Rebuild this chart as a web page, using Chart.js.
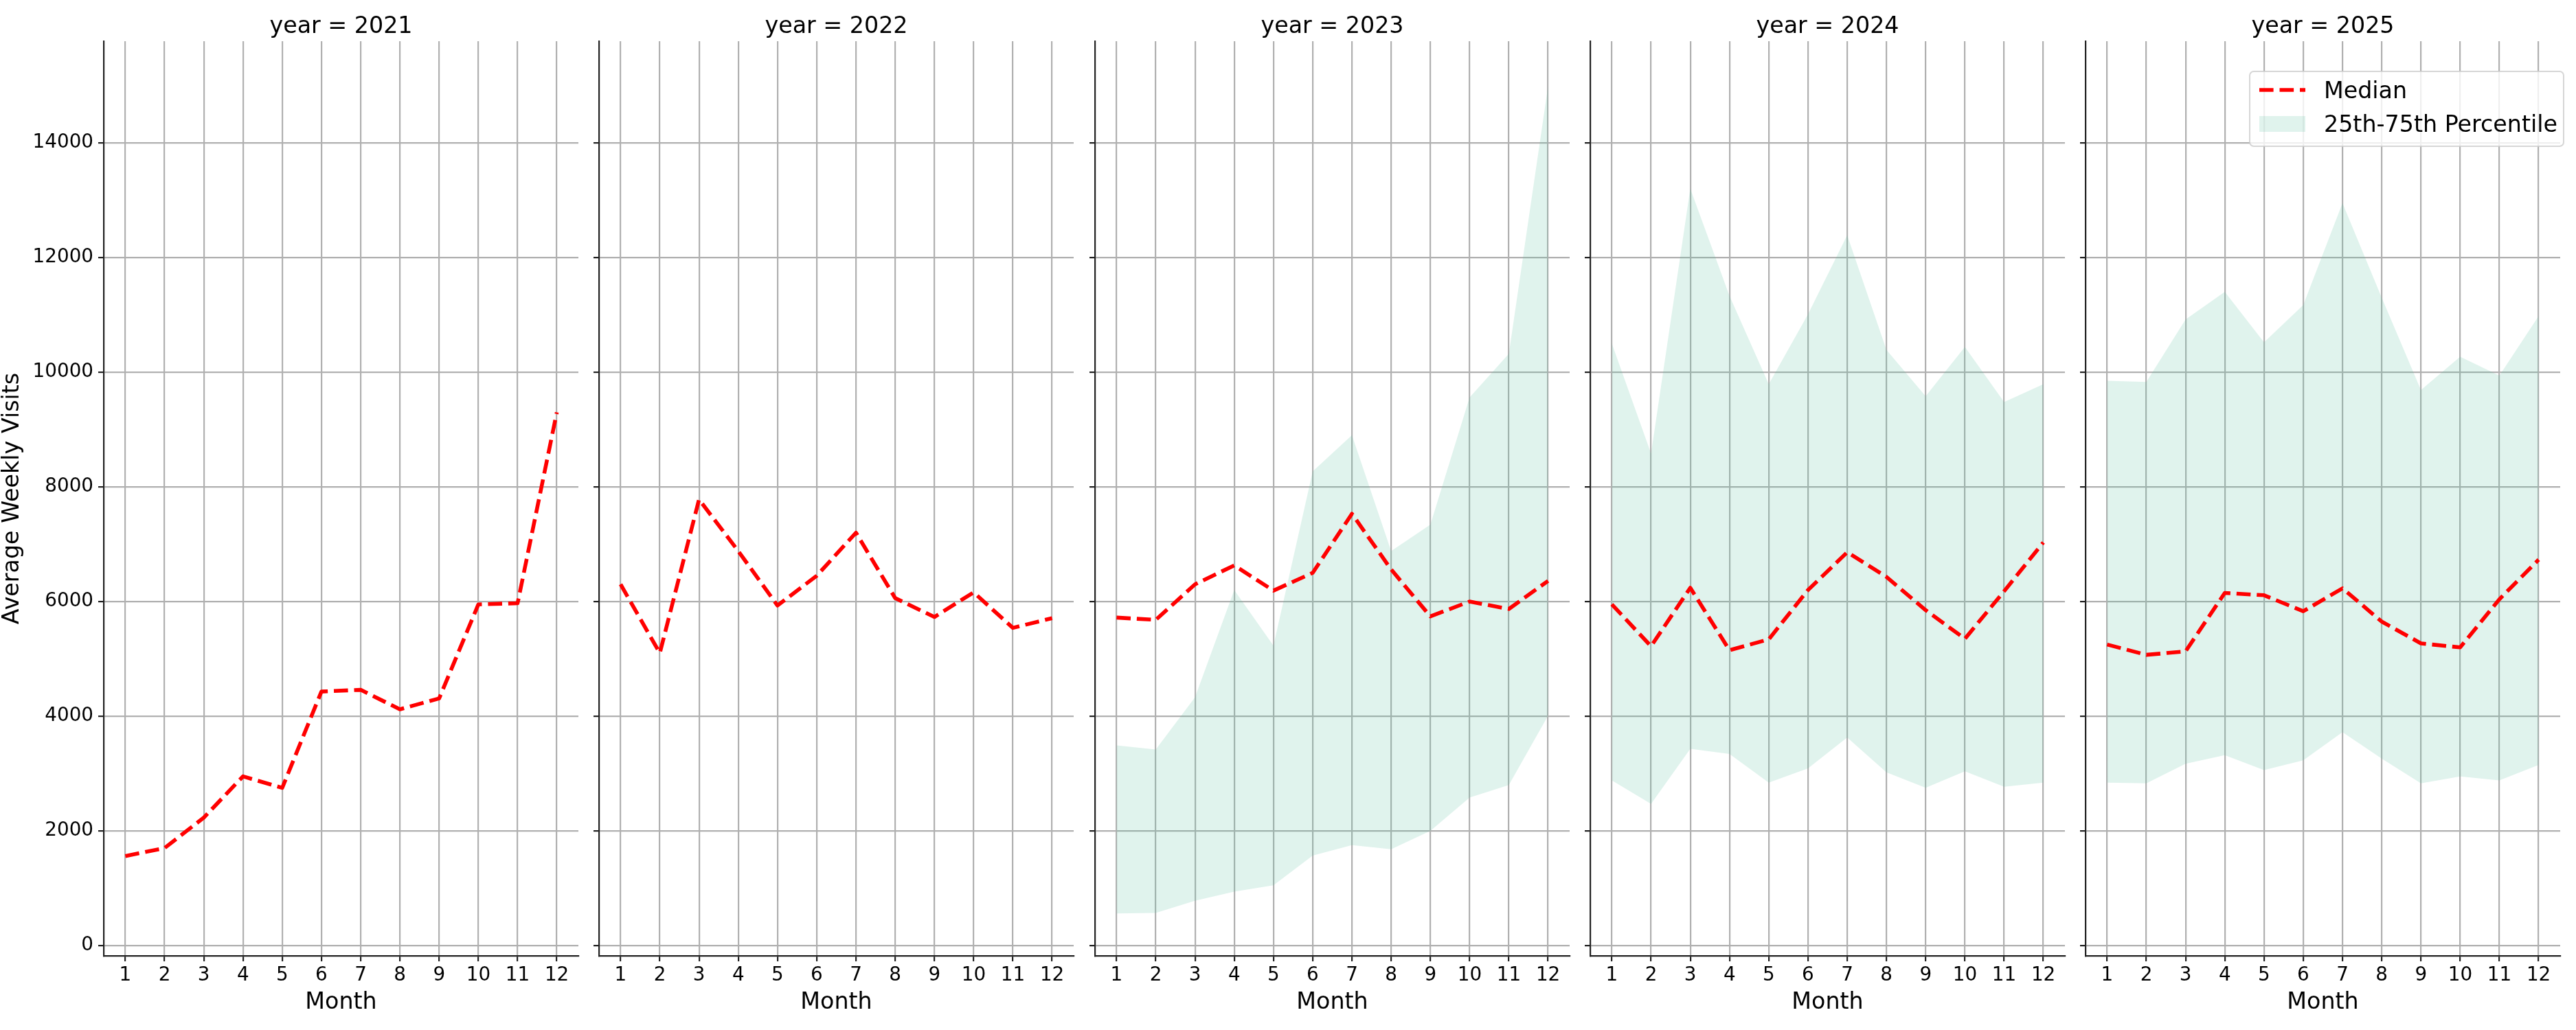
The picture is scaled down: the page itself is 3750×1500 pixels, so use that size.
<!DOCTYPE html>
<html>
<head>
<meta charset="utf-8">
<title>Average Weekly Visits by Month</title>
<script src="https://cdn.jsdelivr.net/npm/chart.js@4.4.1/dist/chart.umd.min.js"></script>
<style>
  html, body { margin: 0; padding: 0; background: #fff; }
  #wrap { position: relative; width: 3750px; height: 1500px; overflow: hidden; background: #fff; }
  #wrap canvas { position: absolute; top: 0; }
</style>
</head>
<body>
<div id="wrap"></div>
<script>
// values
var months = [1, 2, 3, 4, 5, 6, 7, 8, 9, 10, 11, 12];
var years = [2021, 2022, 2023, 2024, 2025];

var median2021 = [1560, 1700, 2230, 2950, 2750, 4430, 4460, 4120, 4310, 5950, 5970, 9300];
var median2022 = [6300, 5100, 7780, 6880, 5930, 6450, 7200, 6060, 5730, 6160, 5540, 5710];
var median2023 = [5720, 5680, 6300, 6630, 6190, 6500, 7530, 6560, 5740, 6000, 5870, 6360];
var median2024 = [5950, 5220, 6240, 5150, 5340, 6200, 6860, 6430, 5850, 5350, 6180, 7030];
var median2025 = [5250, 5070, 5130, 6150, 6110, 5830, 6230, 5650, 5270, 5200, 6040, 6730];

var q25_2023 = [560, 570, 780, 940, 1050, 1570, 1750, 1680, 2000, 2580, 2800, 4010];
var q75_2023 = [3490, 3420, 4330, 6200, 5230, 8270, 8900, 6880, 7340, 9560, 10320, 14990];
var q25_2024 = [2880, 2470, 3430, 3340, 2840, 3090, 3630, 3020, 2750, 3040, 2770, 2840];
var q75_2024 = [10500, 8580, 13200, 11330, 9790, 11010, 12390, 10390, 9580, 10440, 9480, 9790];
var q25_2025 = [2840, 2830, 3170, 3320, 3060, 3230, 3720, 3260, 2830, 2950, 2880, 3150];
var q75_2025 = [9850, 9830, 10920, 11400, 10520, 11170, 12950, 11300, 9690, 10270, 9940, 10980];

var yTicks = [0, 2000, 4000, 6000, 8000, 10000, 12000, 14000];

var medians = [median2021, median2022, median2023, median2024, median2025];
var lowers = [null, null, q25_2023, q25_2024, q25_2025];
var uppers = [null, null, q75_2023, q75_2024, q75_2025];

// look
var FONT = 'DejaVu Sans';
var TICK_PX = 27.8, LABEL_PX = 33.3;
var LINE_RED = '#ff0000';
var BAND = 'rgba(102,194,165,0.2)';
var GRID = '#b0b0b0';
var SPINE = '#222222';

// panel geometry (page pixels)
var axesLeft = [151, 872, 1594, 2315, 3036];
var axesWidth = 691, axesTop = 60, axesBottom = 1392, padRight = 12;

var wrap = document.getElementById('wrap');

function points(vals) {
    return months.map(function (m, k) { return {x: m, y: vals[k]}; });
}

var legendPlugin = {
    id: 'bandLegend',
    afterDraw: function (chart) {
        var ctx = chart.ctx, a = chart.chartArea;
        var w = 457, h = 109, r = 6;
        var x0 = a.right + 5 - w, y0 = a.top + 44;
        ctx.save();
        ctx.beginPath();
        ctx.moveTo(x0 + r, y0);
        ctx.lineTo(x0 + w - r, y0);
        ctx.arcTo(x0 + w, y0, x0 + w, y0 + r, r);
        ctx.lineTo(x0 + w, y0 + h - r);
        ctx.arcTo(x0 + w, y0 + h, x0 + w - r, y0 + h, r);
        ctx.lineTo(x0 + r, y0 + h);
        ctx.arcTo(x0, y0 + h, x0, y0 + h - r, r);
        ctx.lineTo(x0, y0 + r);
        ctx.arcTo(x0, y0, x0 + r, y0, r);
        ctx.closePath();
        ctx.fillStyle = 'rgba(255,255,255,0.8)';
        ctx.fill();
        ctx.strokeStyle = 'rgba(204,204,204,0.8)';
        ctx.lineWidth = 2;
        ctx.stroke();

        // median handle
        ctx.beginPath();
        ctx.setLineDash([20.6, 8.9]);
        ctx.lineCap = 'butt';
        ctx.strokeStyle = LINE_RED;
        ctx.lineWidth = 5.6;
        ctx.moveTo(x0 + 14, y0 + 27);
        ctx.lineTo(x0 + 81, y0 + 27);
        ctx.stroke();
        ctx.setLineDash([]);

        // band handle
        ctx.fillStyle = BAND;
        ctx.fillRect(x0 + 14, y0 + 65, 67, 23);

        ctx.fillStyle = '#000';
        ctx.font = LABEL_PX + 'px "' + FONT + '"';
        ctx.textAlign = 'left';
        ctx.textBaseline = 'alphabetic';
        ctx.fillText('Median', x0 + 108, y0 + 39);
        ctx.fillText('25th-75th Percentile', x0 + 108, y0 + 88);
        ctx.restore();
    }
};

function buildPanel(i) {
    var first = i === 0;
    var last = i === years.length - 1;
    var yw = first ? 151 : 14;
    var w = yw + axesWidth + padRight;

    var canvas = document.createElement('canvas');
    canvas.width = w;
    canvas.height = 1500;
    canvas.style.left = (axesLeft[i] - yw) + 'px';
    canvas.style.width = w + 'px';
    canvas.style.height = '1500px';
    wrap.appendChild(canvas);

    var datasets = [{
        label: 'Median',
        data: points(medians[i]),
        borderColor: LINE_RED,
        borderWidth: 5.6,
        borderDash: [20.6, 8.9],
        borderCapStyle: 'butt',
        borderJoinStyle: 'round',
        pointRadius: 0,
        tension: 0,
        fill: false
    }];
    if (lowers[i]) {
        datasets.push({
            label: '25th',
            data: points(lowers[i]),
            borderColor: 'rgba(0,0,0,0)',
            borderWidth: 0,
            pointRadius: 0,
            fill: false
        });
        datasets.push({
            label: '25th-75th Percentile',
            data: points(uppers[i]),
            borderColor: 'rgba(0,0,0,0)',
            borderWidth: 0,
            backgroundColor: BAND,
            pointRadius: 0,
            fill: 1
        });
    }

    var gridOpts = {color: GRID, lineWidth: 2.2, tickColor: SPINE, tickWidth: 2.2, tickLength: 8};
    var borderOpts = {color: SPINE, width: 2.2};
    var titleTop = 19;

    new Chart(canvas, {
        type: 'line',
        data: {datasets: datasets},
        options: {
            responsive: false,
            animation: false,
            devicePixelRatio: 1,
            events: [],
            layout: {padding: {left: 0, top: 0, right: padRight, bottom: 0}},
            plugins: {
                legend: {display: false},
                tooltip: {enabled: false},
                title: {
                    display: true,
                    text: 'year = ' + years[i],
                    fullSize: false,
                    color: '#000',
                    font: {family: FONT, size: LABEL_PX, weight: 'normal'},
                    padding: {top: titleTop, bottom: axesTop - titleTop - LABEL_PX * 1.2}
                }
            },
            scales: {
                x: {
                    type: 'linear',
                    min: 0.45,
                    max: 12.55,
                    ticks: {
                        stepSize: 1,
                        includeBounds: false,
                        autoSkip: false,
                        maxRotation: 0,
                        padding: 4,
                        color: '#000',
                        font: {family: FONT, size: TICK_PX},
                        callback: function (v) { return String(v); }
                    },
                    grid: gridOpts,
                    border: borderOpts,
                    title: {
                        display: true,
                        text: 'Month',
                        color: '#000',
                        font: {family: FONT, size: LABEL_PX},
                        padding: {top: 0, bottom: 20}
                    },
                    afterFit: function (s) { s.height = 1500 - axesBottom; }
                },
                y: {
                    type: 'linear',
                    min: -180,
                    max: 15773,
                    afterBuildTicks: function (s) {
                        s.ticks = yTicks.map(function (v) { return {value: v}; });
                    },
                    ticks: {
                        display: first,
                        padding: 7,
                        color: '#000',
                        font: {family: FONT, size: TICK_PX},
                        callback: function (v) { return String(v); }
                    },
                    grid: gridOpts,
                    border: borderOpts,
                    title: {
                        display: first,
                        text: 'Average Weekly Visits',
                        color: '#000',
                        font: {family: FONT, size: LABEL_PX, lineHeight: 1.11},
                        padding: {top: 0, bottom: 0}
                    },
                    afterFit: function (s) { s.width = yw; }
                }
            }
        },
        plugins: last ? [legendPlugin] : []
    });
}

for (var i = 0; i < years.length; i++) {
    buildPanel(i);
}
</script>
</body>
</html>
